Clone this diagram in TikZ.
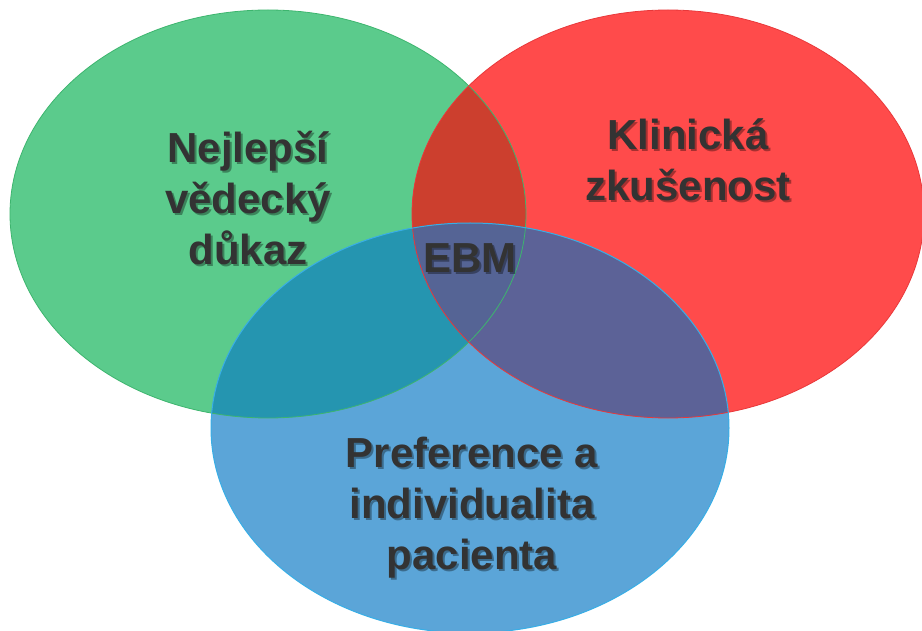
\documentclass[tikz,border=0pt]{standalone}
\usepackage{fontspec}
\setmainfont{Liberation Sans}
\definecolor{evidgreen}{HTML}{5BCB8C}
\definecolor{evidgreenline}{HTML}{3DB56E}
\definecolor{clinred}{HTML}{FF4B4B}
\definecolor{clinredline}{HTML}{E8383A}
\definecolor{patblue}{HTML}{5BA5D8}
\definecolor{patblueline}{HTML}{38AEE6}
\definecolor{greenred}{HTML}{CC3F2E}
\definecolor{greenblue}{HTML}{2595B0}
\definecolor{redblue}{HTML}{5C6297}
\definecolor{allthree}{HTML}{556495}
\definecolor{labelgray}{HTML}{333333}
\newcommand{\greenset}{(268,214) ellipse (258pt and 204pt)}
\newcommand{\redset}{(668,214) ellipse (256pt and 204pt)}
\newcommand{\blueset}{(470,428) ellipse (259pt and 205pt)}
\newcommand{\venntext}[3]{%
  \node[set label,text=black,opacity=0.35] (#1-shadow) at ([shift={(2,2)}]#2) {#3};
  \node[set label] (#1) at (#2) {#3};}
\begin{document}
\begin{tikzpicture}[x=1pt,y=-1pt,
    set label/.style={font=\fontsize{42}{51}\selectfont\bfseries,text=labelgray,align=center,inner sep=0pt}]
  \useasboundingbox (0,0) rectangle (922,631);
  \fill[white] (0,0) rectangle (922,631); %background
  \fill[evidgreen] \greenset; %evidence
  \fill[clinred] \redset; %clinical experience
  \fill[patblue] \blueset; %patient
  \begin{scope} \clip \greenset; \fill[greenred] \redset; \end{scope} %green and red
  \begin{scope} \clip \greenset; \fill[greenblue] \blueset; \end{scope} %green and blue
  \begin{scope} \clip \redset; \fill[redblue] \blueset; \end{scope} %red and blue
  \begin{scope} \clip \greenset; \clip \redset; \fill[allthree] \blueset; \end{scope} %middle
  \draw[evidgreenline,line width=0.8pt] \greenset; %outlines
  \draw[clinredline,line width=0.8pt] \redset;
  \draw[patblueline,line width=1pt] \blueset;
  \venntext{evidence}{248,198}{Nejlepší\\vědecký\\důkaz}
  \venntext{clinical}{688,160}{Klinická\\zkušenost}
  \venntext{patient}{472,508}{Preference a\\individualita\\pacienta}
  \venntext{ebm}{470,258}{EBM}
\end{tikzpicture}
\end{document}
